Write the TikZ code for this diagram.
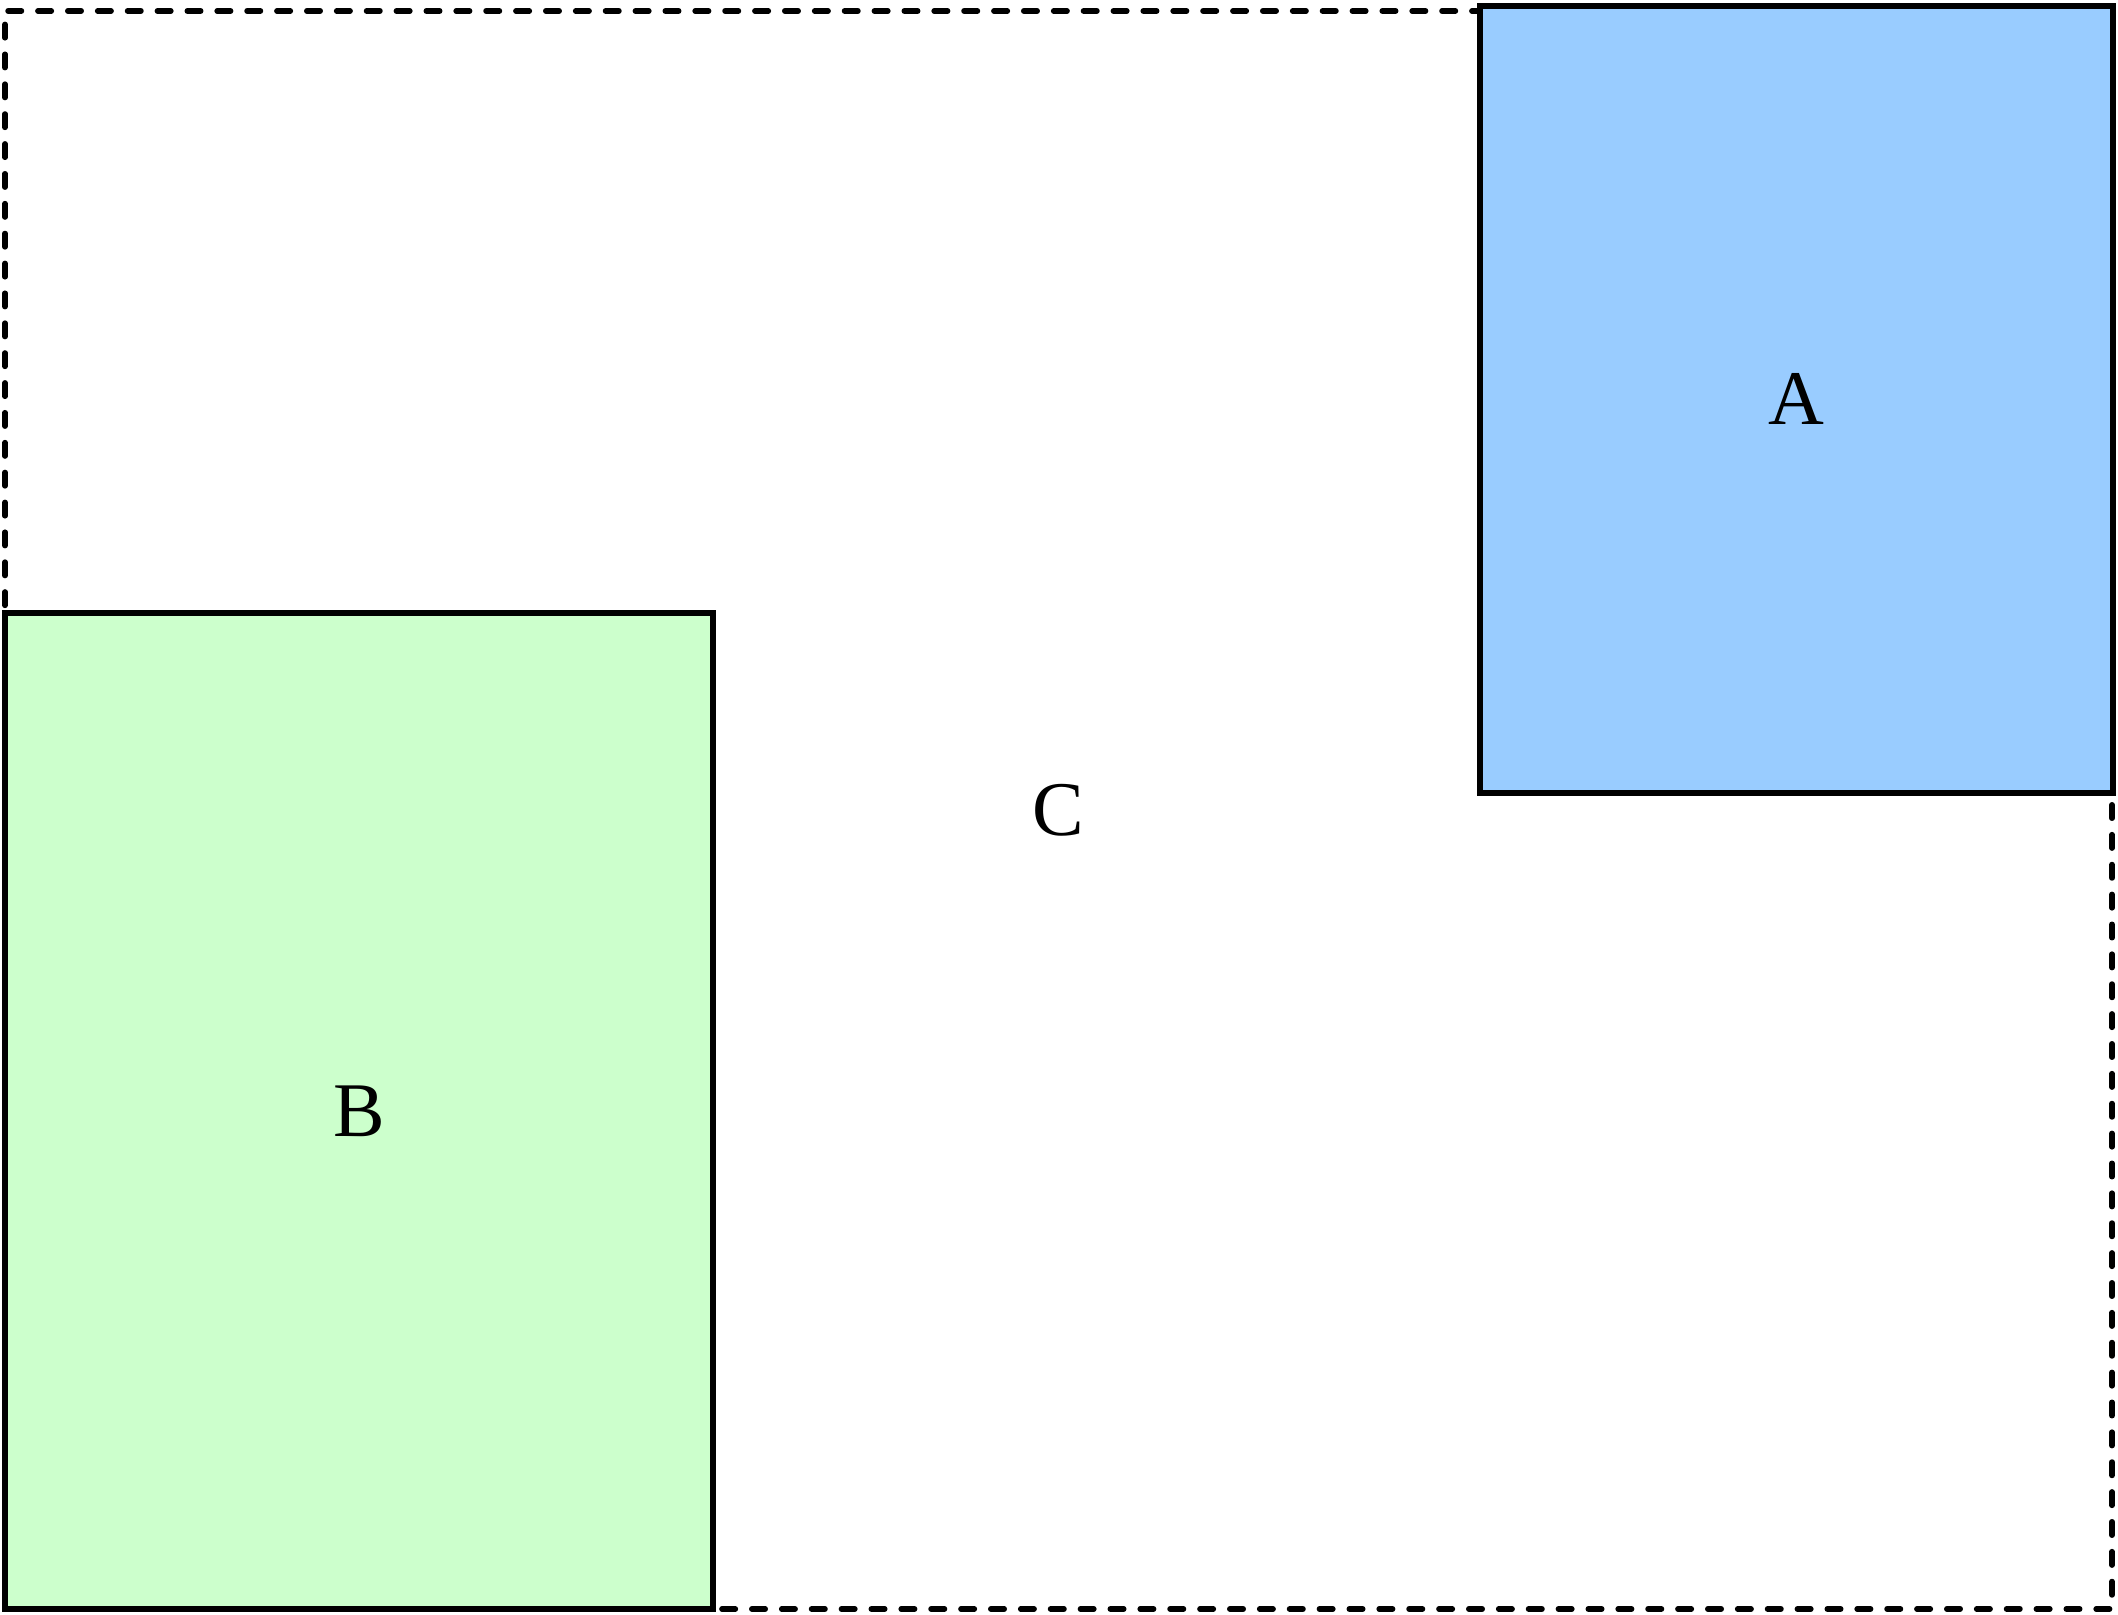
\documentclass[tikz,border=0pt]{standalone}
\usepackage{fontspec}
\setmainfont{Liberation Serif}
\tikzset{
  region/.style={draw=black, line width=1.6pt, rectangle, inner sep=0pt, font=\fontsize{22}{24}\selectfont},
  dashregion/.style={region, line cap=round, dash pattern=on 3.8pt off 4.7pt},
}
\begin{document}
\begin{tikzpicture}
\useasboundingbox (0,0) rectangle (21.18,16.15);
\node[dashregion, minimum width=21.07cm, minimum height=15.98cm] (C) at (10.585,8.05) {C};
\node[region, fill={rgb,255:red,153;green,204;blue,255}, minimum width=6.33cm, minimum height=7.87cm] (A) at (17.965,12.155) {A};
\node[region, fill={rgb,255:red,204;green,255;blue,204}, minimum width=7.08cm, minimum height=9.96cm] (B) at (3.59,5.04) {B};
\end{tikzpicture}
\end{document}
